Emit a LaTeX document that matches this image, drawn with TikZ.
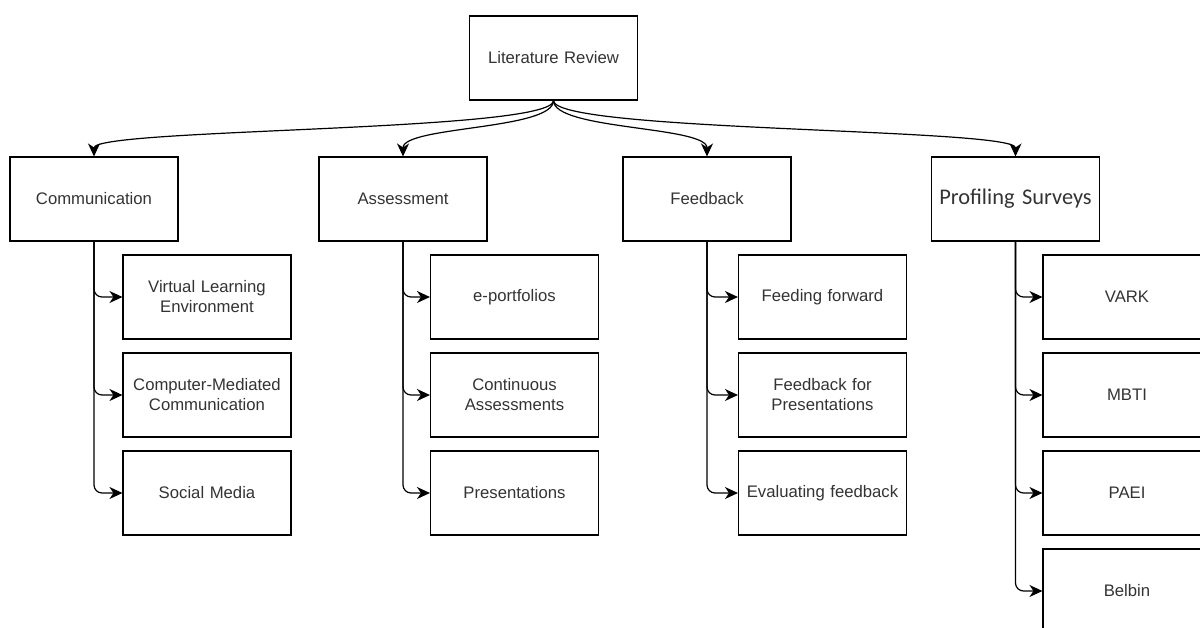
\documentclass[tikz,border=0pt]{standalone}
\usepackage{fontspec}
\setmainfont{Liberation Sans}
\newfontfamily\carlito{Carlito}
\usetikzlibrary{arrows.meta}

\begin{document}
\begin{tikzpicture}[x=1pt, y=-1pt,
    box/.style={draw, line width=1.1pt, minimum width=168pt, minimum height=84pt,
      text width=160pt, align=center, text=black!80,
      font=\fontsize{16.7}{20}\selectfont},
    link/.style={-{Stealth[length=13pt,width=12pt,inset=4pt]}, line width=1.2pt},
    branch/.style={link, rounded corners=8pt}]
  \useasboundingbox (0,0) rectangle (1200,627);
  \clip (0,0) rectangle (1200,627);

  % top
  \node [box] (lit) at (553.5,58) {Literature Review};

  % topics
  \node [box] (comm) at (94,199) {Communication};
  \node [box] (assess) at (403,199) {Assessment};
  \node [box] (feed) at (707,199) {Feedback};
  \node [box, font=\carlito\fontsize{22.4}{26}\selectfont] (prof) at (1015.5,199) {Profiling Surveys};

  % communication
  \node [box] (vle) at (207,297) {Virtual Learning\\Environment};
  \node [box] (cmc) at (207,395) {Computer-Mediated\\Communication};
  \node [box] (social) at (207,493) {Social Media};

  % assessment
  \node [box] (eport) at (514.5,297) {e-portfolios};
  \node [box] (contin) at (514.5,395) {Continuous\\Assessments};
  \node [box] (present) at (514.5,493) {Presentations};

  % feedback
  \node [box] (forward) at (822.5,297) {Feeding forward};
  \node [box] (fbpres) at (822.5,395) {Feedback for\\Presentations};
  \node [box] (evalfb) at (822.5,493) {Evaluating feedback};

  % surveys
  \node [box] (vark) at (1127,297) {VARK};
  \node [box] (mbti) at (1127,395) {MBTI};
  \node [box] (paei) at (1127,493) {PAEI};
  \node [box] (belbin) at (1127,591) {Belbin};

  % curved links from the top
  \draw [link] (lit.south) .. controls (553.5,132) and (94,128) .. (comm.north);
  \draw [link] (lit.south) .. controls (553.5,130) and (403,126) .. (assess.north);
  \draw [link] (lit.south) .. controls (553.5,130) and (707,126) .. (feed.north);
  \draw [link] (lit.south) .. controls (553.5,132) and (1015.5,128) .. (prof.north);

  % branches
  \foreach \from/\to in {comm/vle, comm/cmc, comm/social,
      assess/eport, assess/contin, assess/present,
      feed/forward, feed/fbpres, feed/evalfb,
      prof/vark, prof/mbti, prof/paei, prof/belbin}
    \draw [branch] (\from.south) |- (\to.west);
\end{tikzpicture}
\end{document}
